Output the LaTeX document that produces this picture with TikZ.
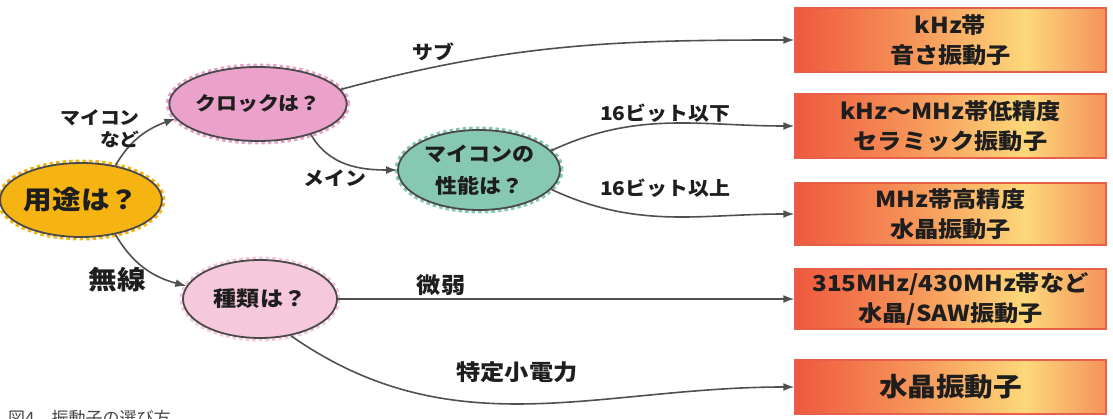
\documentclass[tikz,border=0pt]{standalone}
\usepackage{fontspec}
\setmainfont{Noto Sans CJK JP}
\newfontfamily\hand[FakeStretch=1.1]{Noto Sans CJK JP}
\usetikzlibrary{shapes.geometric,arrows.meta}
\definecolor{ink}{HTML}{1E1E1E}
\definecolor{edgegray}{HTML}{4A4A4A}
\definecolor{linegray}{HTML}{505050}
\definecolor{cyellow}{HTML}{F5B412}
\definecolor{cpink}{HTML}{EBA2CA}
\definecolor{cteal}{HTML}{86C8B2}
\definecolor{clpink}{HTML}{F5C8DB}
\definecolor{boxedge}{HTML}{E8604A}
\definecolor{bxA}{HTML}{EF583E}
\definecolor{bxB}{HTML}{F6985A}
\definecolor{bxC}{HTML}{FDD87A}
\definecolor{bxD}{HTML}{F4925A}
\definecolor{capgray}{HTML}{444444}
\pgfdeclarehorizontalshading{boxshade}{100bp}{color(0bp)=(bxA); color(25bp)=(bxA); color(45bp)=(bxB); color(62bp)=(bxC); color(75bp)=(bxD); color(100bp)=(bxD)}
\tikzset{
  bubble/.style={ellipse, draw=edgegray, line width=1.8pt, inner sep=0pt, text=ink, align=center,
    preaction={draw=#1, line width=7pt, dash pattern=on 3.5pt off 3pt}, fill=#1},
  answer/.style={rectangle, draw=boxedge, line width=1.5pt, shade, shading=boxshade,
    minimum width=311pt, inner sep=0pt, align=center, text=ink,
    font=\hand\bfseries\fontsize{22}{30}\selectfont},
  link/.style={draw=linegray, line width=1.6pt, -{Latex[length=11pt,width=8pt]}},
  lbl/.style={text=ink, inner sep=0pt, align=right, font=\hand\bfseries\fontsize{19}{22}\selectfont},
}
\begin{document}
\begin{tikzpicture}[x=1pt,y=1pt]
\useasboundingbox (0,0) rectangle (1113,-419);
% question bubbles
\node[bubble=cyellow, minimum width=152pt, minimum height=74pt, font=\hand\bfseries\fontsize{26}{30}\selectfont] (yoto) at (81,-200) {用途は？};
\node[bubble=cpink, minimum width=152pt, minimum height=74pt, font=\hand\bfseries\fontsize{19}{22}\selectfont] (clock) at (258,-104) {クロックは？};
\node[bubble=cteal, minimum width=162pt, minimum height=80pt, font=\hand\bfseries\fontsize{20}{32}\selectfont] (perf) at (479,-170) {マイコンの\\性能は？};
\node[bubble=clpink, minimum width=154pt, minimum height=78pt, font=\hand\bfseries\fontsize{21}{24}\selectfont] (kind) at (260,-299) {種類は？};
% answer boxes
\node[answer, minimum height=64pt] (box1) at (950.5,-40) {kHz帯\\音さ振動子};
\node[answer, minimum height=64pt] (box2) at (950.5,-126) {kHz～MHz帯低精度\\セラミック振動子};
\node[answer, minimum height=62pt] (box3) at (950.5,-214) {MHz帯高精度\\水晶振動子};
\node[answer, minimum height=60pt] (box4) at (950.5,-299) {315MHz/430MHz帯など\\水晶/SAW振動子};
\node[answer, minimum height=54pt, font=\hand\bfseries\fontsize{26}{30}\selectfont] (box5) at (950.5,-387) {水晶振動子};
% connectors
\draw[link] (yoto.45) to[out=60,in=200] (clock.190);
\draw[link] (yoto.-45) to[out=-60,in=165] (kind.170);
\draw[link] (clock.-30) to[out=-60,in=180] (perf.180);
\draw[link] (clock.10) to[out=15,in=180] (box1.west);
\draw[link] (perf.15) to[out=25,in=180] (box2.west);
\draw[link] (perf.-15) to[out=-25,in=180] (box3.west);
\draw[link] (kind.east) -- (box4.west);
\draw[link] (kind.-50) to[out=-35,in=180] (box5.west);
% labels
\node[lbl, font=\hand\bfseries\fontsize{18}{22}\selectfont] (lmicon) at (100,-129) {マイコン\\など};
\node[lbl] (lsub) at (433,-52) {サブ};
\node[lbl] (lmain) at (335,-178) {メイン};
\node[lbl] (l16lo) at (665,-113) {16ビット以下};
\node[lbl] (l16hi) at (665,-188) {16ビット以上};
\node[lbl, font=\hand\bfseries\fontsize{26}{30}\selectfont] (lmusen) at (117,-280) {無線};
\node[lbl, font=\hand\bfseries\fontsize{22}{26}\selectfont] (lbijaku) at (441,-285) {微弱};
\node[lbl, font=\hand\bfseries\fontsize{22}{26}\selectfont] (ltokutei) at (517,-372) {特定小電力};
% caption
\node[anchor=base west, inner sep=0pt, text=capgray, font=\fontsize{17}{20}\selectfont] (cap) at (8,-424) {図4　振動子の選び方};
\end{tikzpicture}
\end{document}
